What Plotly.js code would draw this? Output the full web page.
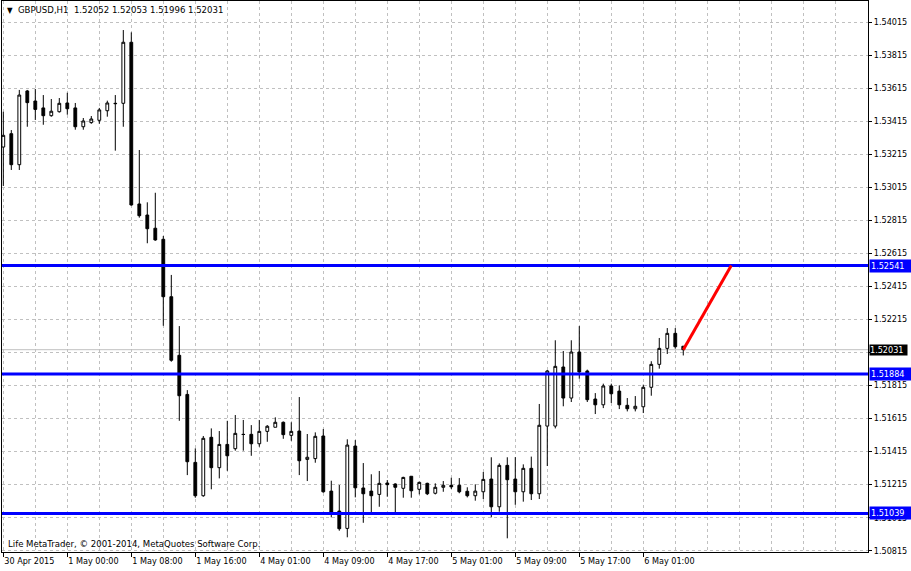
<!DOCTYPE html>
<html>
<head>
<meta charset="utf-8">
<script src="https://cdn.plot.ly/plotly-3.0.1.min.js"></script>
<style>html,body{margin:0;padding:0;background:#fff;}#chart{width:911px;height:571px;}</style>
</head>
<body>
<div id="chart"></div>
<script>
// ---- data (GBPUSD, H1) ----
const symbol = "GBPUSD,H1";
const barIndex = Array.from({length: 86}, (_, i) => i);
const openP = [
1.53259, 1.53340, 1.53152, 1.53599, 1.53538, 1.53496, 1.53449, 1.53473, 1.53526, 1.53496,
1.53382, 1.53407, 1.53421, 1.53479, 1.53524, 1.53524, 1.53894, 1.52914, 1.52847, 1.52767,
1.52700, 1.52352, 1.51997, 1.51760, 1.51348, 1.51146, 1.51500, 1.51316, 1.51457, 1.51431,
1.51518, 1.51518, 1.51461, 1.51536, 1.51561, 1.51591, 1.51512, 1.51538, 1.51366, 1.51371,
1.51508, 1.51174, 1.51053, 1.50948, 1.51447, 1.51193, 1.51174, 1.51154, 1.51223, 1.51217,
1.51191, 1.51264, 1.51185, 1.51221, 1.51161, 1.51197, 1.51209, 1.51209, 1.51173, 1.51146,
1.51170, 1.51247, 1.51079, 1.51330, 1.51247, 1.51170, 1.51312, 1.51158, 1.51568, 1.51568,
1.51926, 1.51738, 1.52017, 1.51902, 1.51732, 1.51697, 1.51811, 1.51780, 1.51694, 1.51673,
1.51685, 1.51803, 1.51942, 1.52039, 1.52130, 1.52052];
const highP = [
1.53473, 1.53362, 1.53605, 1.53605, 1.53611, 1.53574, 1.53550, 1.53556, 1.53588, 1.53526,
1.53435, 1.53447, 1.53496, 1.53540, 1.53574, 1.53968, 1.53954, 1.53241, 1.52924, 1.52982,
1.52720, 1.52484, 1.52174, 1.51786, 1.51433, 1.51508, 1.51554, 1.51538, 1.51600, 1.51635,
1.51605, 1.51574, 1.51605, 1.51574, 1.51621, 1.51596, 1.51591, 1.51744, 1.51520, 1.51530,
1.51550, 1.51237, 1.51211, 1.51488, 1.51483, 1.51344, 1.51276, 1.51296, 1.51241, 1.51221,
1.51261, 1.51265, 1.51231, 1.51225, 1.51221, 1.51235, 1.51255, 1.51253, 1.51197, 1.51215,
1.51290, 1.51379, 1.51342, 1.51379, 1.51380, 1.51336, 1.51383, 1.51702, 1.51908, 1.52088,
1.52023, 1.52088, 1.52174, 1.51910, 1.51768, 1.51825, 1.51825, 1.51815, 1.51738, 1.51750,
1.51819, 1.51961, 1.52102, 1.52162, 1.52162, 1.52053];
const lowP = [
1.53023, 1.53120, 1.53120, 1.53382, 1.53423, 1.53394, 1.53443, 1.53468, 1.53455, 1.53364,
1.53364, 1.53400, 1.53400, 1.53443, 1.53237, 1.53382, 1.52904, 1.52831, 1.52676, 1.52691,
1.52176, 1.51958, 1.51600, 1.51271, 1.51134, 1.51140, 1.51185, 1.51251, 1.51297, 1.51419,
1.51419, 1.51388, 1.51443, 1.51473, 1.51561, 1.51491, 1.51479, 1.51271, 1.51235, 1.51346,
1.51164, 1.51015, 1.50934, 1.50894, 1.51136, 1.50982, 1.51045, 1.51079, 1.51140, 1.51043,
1.51134, 1.51134, 1.51154, 1.51150, 1.51154, 1.51170, 1.51187, 1.51161, 1.51136, 1.51116,
1.51126, 1.51015, 1.51049, 1.50888, 1.51091, 1.51110, 1.51120, 1.51126, 1.51326, 1.51554,
1.51688, 1.51714, 1.51855, 1.51714, 1.51641, 1.51677, 1.51708, 1.51671, 1.51657, 1.51657,
1.51647, 1.51752, 1.51916, 1.52005, 1.52037, 1.51996];
const closeP = [
1.53330, 1.53152, 1.53574, 1.53528, 1.53487, 1.53449, 1.53476, 1.53524, 1.53491, 1.53382,
1.53417, 1.53429, 1.53484, 1.53526, 1.53522, 1.53894, 1.52908, 1.52843, 1.52764, 1.52696,
1.52352, 1.51967, 1.51752, 1.51352, 1.51146, 1.51494, 1.51316, 1.51457, 1.51388, 1.51524,
1.51517, 1.51461, 1.51536, 1.51567, 1.51591, 1.51516, 1.51536, 1.51358, 1.51379, 1.51506,
1.51170, 1.51045, 1.50946, 1.51453, 1.51194, 1.51158, 1.51146, 1.51221, 1.51213, 1.51197,
1.51257, 1.51176, 1.51227, 1.51158, 1.51197, 1.51209, 1.51200, 1.51170, 1.51146, 1.51174,
1.51245, 1.51079, 1.51330, 1.51243, 1.51170, 1.51312, 1.51158, 1.51573, 1.51902, 1.51930,
1.51738, 1.52017, 1.51896, 1.51728, 1.51697, 1.51811, 1.51764, 1.51697, 1.51673, 1.51688,
1.51803, 1.51942, 1.52039, 1.52130, 1.52049, 1.52031];

const tickIndex = [0, 8, 16, 24, 32, 40, 48, 56, 64, 72, 80];
const tickLabels = ["30 Apr 2015", "1 May 00:00", "1 May 08:00", "1 May 16:00", "4 May 01:00",
  "4 May 09:00", "4 May 17:00", "5 May 01:00", "5 May 09:00", "5 May 17:00", "6 May 01:00"];
const levels = [1.52541, 1.51884, 1.51039];
const projectionEnd = {index: 91, price: 1.52541};
const copyright = "Life MetaTrader, © 2001-2014, MetaQuotes Software Corp.";

// ---- chart ----
const FONT = "'DejaVu Sans Condensed', 'DejaVu Sans', sans-serif";
const GRID = "#c0c0c0";
const n = closeP.length;
const last = n - 1;
const fmt = v => v.toFixed(5);

const candles = {
  type: "candlestick",
  x: barIndex, open: openP, high: highP, low: lowP, close: closeP,
  increasing: {line: {color: "#000000", width: 1}, fillcolor: "#ffffff"},
  decreasing: {line: {color: "#000000", width: 1}, fillcolor: "#000000"},
  whiskerwidth: 0,
  hoverinfo: "skip",
  showlegend: false
};

const shapes = [];
shapes.push({type: "line", xref: "paper", x0: 0, x1: 1, yref: "y", y0: closeP[last], y1: closeP[last],
  line: {color: "#c0c0c0", width: 1}, layer: "below"});
levels.forEach(l => shapes.push({type: "line", xref: "paper", x0: 0, x1: 1, yref: "y", y0: l, y1: l,
  line: {color: "#0000ff", width: 3}, layer: "above"}));
shapes.push({type: "line", xref: "x", yref: "y", x0: barIndex[last], y0: closeP[last],
  x1: projectionEnd.index, y1: projectionEnd.price, line: {color: "#ff0000", width: 3}, layer: "above"});

const annotations = [];
levels.forEach(l => annotations.push({xref: "paper", x: 1, xanchor: "left", xshift: 1, yref: "y", y: l,
  yanchor: "middle", text: fmt(l), showarrow: false, bgcolor: "#0000ff", borderpad: 1, width: 40, align: "left",
  font: {family: FONT, size: 9, color: "#ffffff"}}));
annotations.push({xref: "paper", x: 1, xanchor: "left", xshift: 1, yref: "y", y: closeP[last],
  yanchor: "middle", text: fmt(closeP[last]), showarrow: false, bgcolor: "#000000", borderpad: 0, width: 37, align: "left",
  font: {family: FONT, size: 9, color: "#ffffff"}});
annotations.push({xref: "paper", x: 0, xanchor: "left", xshift: 4, yref: "paper", y: 0, yanchor: "bottom", yshift: 1,
  text: copyright, showarrow: false, font: {family: FONT, size: 9.5, color: "#000000"}});

const titleText = '<span style="font-size:8px">▼</span>\u00a0 ' + symbol + '\u00a0 ' +
  [openP[last], highP[last], lowP[last], closeP[last]].map(fmt).join(' ');

const layout = {
  width: 911, height: 571,
  margin: {l: 2, r: 43, t: 1, b: 19, pad: 0},
  paper_bgcolor: "#ffffff", plot_bgcolor: "#ffffff",
  font: {family: FONT, size: 9, color: "#000000"},
  showlegend: false, hovermode: false, dragmode: false,
  boxgap: 0.5,
  title: {text: titleText, xref: "container", x: 7 / 911, xanchor: "left",
    yref: "container", y: 1 - 10 / 571, yanchor: "middle", font: {family: FONT, size: 9.5, color: "#000000"}},
  xaxis: {
    type: "linear", range: [-0.1625, 108.09],
    showline: true, mirror: true, linecolor: "#000000", linewidth: 1,
    tickmode: "array", tickvals: tickIndex, ticktext: tickLabels,
    ticks: "outside", ticklen: 4, tickcolor: "#000000", tickwidth: 1,
    ticklabelposition: "outside right",
    showgrid: true, gridcolor: GRID, gridwidth: 1, griddash: "3px,3px",
    minor: {tickmode: "linear", tick0: 0, dtick: 4, showgrid: true, gridcolor: GRID, gridwidth: 1, griddash: "3px,3px", ticks: ""},
    zeroline: false, rangeslider: {visible: false}, fixedrange: true
  },
  yaxis: {
    side: "right", range: [1.50805, 1.54144],
    tickmode: "linear", tick0: 1.50815, dtick: 0.002, tickformat: ".5f",
    ticks: "outside", ticklen: 3, tickcolor: "#000000",
    showline: true, mirror: true, linecolor: "#000000", linewidth: 1,
    showgrid: true, gridcolor: GRID, gridwidth: 1, griddash: "3px,3px",
    zeroline: false, fixedrange: true
  },
  shapes: shapes,
  annotations: annotations
};

Plotly.newPlot("chart", [candles], layout, {displayModeBar: false, staticPlot: true});
</script>
</body>
</html>
